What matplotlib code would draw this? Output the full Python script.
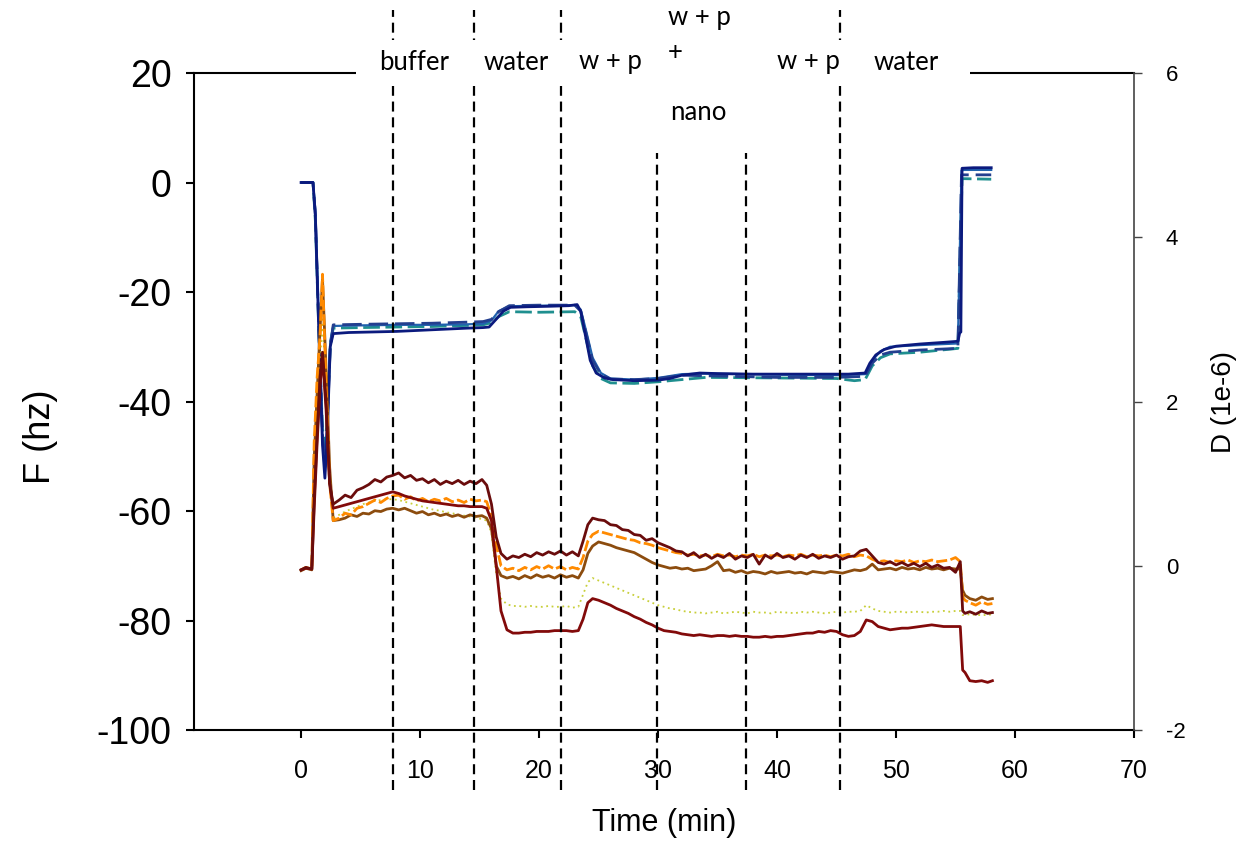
import matplotlib
matplotlib.use("Agg")
import matplotlib.pyplot as plt
import matplotlib.transforms as mtransforms
from matplotlib.patches import Rectangle

plt.rcParams['font.family'] = ['Liberation Sans', 'DejaVu Sans']
plt.rcParams['axes.unicode_minus'] = False

# ---------------- data ----------------
# Frequency (left axis, Hz)
t_f_navy = [0, 1.0, 1.2, 1.5, 1.8, 2.0, 2.2, 2.45, 2.7, 4, 6, 8, 10, 12, 14, 15.3, 15.8, 16.3, 17.0, 17.6,
            19, 21, 22.5, 23.2, 23.5, 23.9, 24.3, 24.8, 25.5, 26.2, 28, 30, 31, 32, 33.5, 35, 38, 41, 44, 46,
            47.4, 47.8, 48.3, 49, 50, 52, 54, 55.2, 55.35, 55.45, 55.55, 56.5, 58.0]
f_navy = [0, 0, -6, -28, -48, -54, -46, -30, -27.6, -27.4, -27.3, -27.2, -27.0, -26.8, -26.6, -26.5, -26.4, -25.2, -23.5, -22.8,
          -22.7, -22.6, -22.5, -22.3, -23.5, -28, -32.5, -34.8, -35.7, -36.0, -36.2, -36.1, -35.8, -35.2, -34.8, -34.9, -35.0, -35.0, -35.0, -35.0,
          -34.8, -33, -31.5, -30.5, -29.9, -29.5, -29.2, -29.0, -27.5, -27.3, 2.6, 2.7, 2.7]

t_f_b = [0, 1.0, 1.2, 1.5, 1.8, 2.0, 2.2, 2.45, 2.7, 5, 8, 11, 14, 15.3, 16.0, 16.6, 17.5, 20, 23, 23.5,
         24.0, 24.5, 25.2, 26, 28, 30, 32, 34, 40, 45, 47.4, 48.0, 48.7, 49.5, 52, 55.2, 55.5, 55.7, 58.0]
f_bdash = [0, 0, -6, -27, -46, -52, -44, -30, -26.0, -25.9, -25.8, -25.7, -25.5, -25.4, -25.0, -23.6, -22.5, -22.4, -22.4, -23.5,
           -28, -32.5, -35, -35.9, -36.0, -35.8, -35.2, -35.3, -35.6, -35.6, -35.4, -33, -31.5, -31.0, -30.6, -30.3, 1.4, 1.4, 1.4]
f_steel = [0, 0, -5, -26, -47, -53, -45, -29, -26.2, -26.1, -26.0, -26.0, -25.9, -25.8, -25.2, -23.5, -22.6, -22.5, -22.4, -23.2,
           -27.5, -32, -34.8, -35.8, -36.0, -35.7, -35.0, -34.9, -35.1, -35.2, -35.0, -32.5, -30.8, -30.0, -29.7, -29.4, 2.2, 2.3, 2.3]

t_f_teal = [0, 1.0, 1.2, 1.5, 1.8, 2.0, 2.2, 2.45, 2.7, 5, 8, 11, 14, 15.3, 16, 16.6, 17.5, 20, 23, 23.5,
            24, 24.5, 25.2, 26, 28, 30, 32, 34, 40, 45, 46.5, 47.4, 48, 48.7, 49.5, 52, 55.2, 55.55, 55.7, 58]
f_teal = [0, 0, -7, -28, -45, -50, -42, -30, -26.6, -26.5, -26.4, -26.3, -26.1, -26.0, -25.6, -24.5, -23.6, -23.7, -23.6, -24.5,
          -29, -33.5, -35.8, -36.6, -36.7, -36.4, -36.0, -35.6, -35.7, -35.8, -36.2, -36.0, -33.5, -32, -31.3, -31.0, -30.3, 0.7, 0.7, 0.6]

# Dissipation (right axis, 1e-6) - shared time base
t_d = [0, 0.4, 0.9, 1.1, 1.35, 1.6, 1.8, 2.1, 2.4, 2.7,
       3.2, 3.7, 4.2, 4.7, 5.2, 5.7, 6.2, 6.7, 7.2, 7.7, 8.2, 8.7, 9.2, 9.7, 10.2, 10.7, 11.2, 11.7, 12.2, 12.7, 13.2, 13.7, 14.2, 14.7, 15.2,
       15.6, 16.0, 16.4, 16.8,
       17.3, 17.8, 18.3, 18.8, 19.3, 19.8, 20.3, 20.8, 21.3, 21.8, 22.3, 22.8, 23.3,
       23.7, 24.1,
       24.5, 25.0, 25.5, 26.0, 26.5, 27.0, 27.5, 28.0, 28.5, 29.0,
       29.5, 30.0, 30.5, 31.0, 31.5, 32.0, 32.5, 33.0, 33.5, 34.0,
       34.5, 35.0, 35.5, 36.0, 36.5, 37.0, 37.5, 38.0, 38.5, 39.0,
       39.5, 40.0, 40.5, 41.0, 41.5, 42.0, 42.5, 43.0, 43.5, 44.0,
       44.5, 45.0, 45.5, 46.0, 46.5, 47.0, 47.5, 48.0, 48.5, 49.0,
       49.5, 50.0, 50.5, 51.0, 51.5, 52.0, 52.5, 53.0, 53.5, 54.0,
       54.5, 55.0,
       55.4, 55.6, 55.8, 56.2, 56.7, 57.2, 57.7, 58.1]

d_maroon = [-0.05, -0.02, -0.04, 0.8, 1.6, 2.3, 2.6, 2.0, 1.0, 0.75,
            0.80, 0.86, 0.83, 0.92, 0.95, 0.99, 1.05, 1.02, 1.08, 1.10, 1.13, 1.07, 1.10, 1.04, 1.06, 1.01, 1.05, 0.99, 1.03, 1.00, 1.04, 0.99, 1.03, 1.00, 1.05,
            0.98, 0.75, 0.35, 0.15,
            0.08, 0.12, 0.10, 0.14, 0.11, 0.16, 0.13, 0.17, 0.14, 0.18, 0.13, 0.17, 0.12,
            0.30, 0.50,
            0.58, 0.56, 0.55, 0.50, 0.49, 0.44, 0.43, 0.38, 0.37, 0.31,
            0.33, 0.28, 0.25, 0.22, 0.18, 0.17, 0.12, 0.16, 0.10, 0.14,
            0.09, 0.13, 0.10, 0.15, 0.08, 0.12, 0.10, 0.14, 0.02, 0.13,
            0.09, 0.15, 0.10, 0.12, 0.08, 0.13, 0.10, 0.14, 0.09, 0.12,
            0.10, 0.13, 0.08, 0.11, 0.12, 0.18, 0.20, 0.12, 0.04, 0.02,
            0.05, 0.01, 0.04, 0.00, 0.03, -0.01, 0.03, -0.02, 0.01, -0.03,
            -0.02, -0.08,
            0.05, -0.55, -0.58, -0.56, -0.59, -0.55, -0.58, -0.57]

d_red = [-0.05, -0.03, -0.04, 0.7, 1.5, 2.2, 2.55, 1.9, 1.0, 0.70,
         0.72, 0.74, 0.76, 0.78, 0.80, 0.82, 0.84, 0.86, 0.88, 0.90, 0.88, 0.85, 0.83, 0.81, 0.79, 0.78, 0.77, 0.76, 0.75, 0.74, 0.73, 0.73, 0.72, 0.72, 0.72,
         0.70, 0.55, 0.0, -0.55,
         -0.78, -0.82, -0.82, -0.81, -0.81, -0.80, -0.80, -0.80, -0.79, -0.79, -0.79, -0.80, -0.79,
         -0.65, -0.45,
         -0.40, -0.42, -0.45, -0.48, -0.52, -0.55, -0.58, -0.62, -0.65, -0.69,
         -0.72, -0.76, -0.79, -0.80, -0.81, -0.83, -0.84, -0.85, -0.84, -0.85,
         -0.86, -0.85, -0.85, -0.86, -0.85, -0.86, -0.86, -0.87, -0.87, -0.86,
         -0.87, -0.86, -0.86, -0.85, -0.84, -0.83, -0.82, -0.82, -0.80, -0.81,
         -0.79, -0.80, -0.84, -0.86, -0.85, -0.80, -0.66, -0.68, -0.74, -0.76,
         -0.78, -0.77, -0.76, -0.76, -0.75, -0.74, -0.73, -0.72, -0.73, -0.74,
         -0.74, -0.74,
         -0.74, -1.27, -1.30, -1.40, -1.41, -1.40, -1.42, -1.40]

d_orange = [-0.05, -0.02, -0.04, 1.5, 2.3, 2.8, 3.55, 2.2, 1.0, 0.55,
            0.58, 0.64, 0.62, 0.70, 0.72, 0.76, 0.80, 0.77, 0.82, 0.85, 0.86, 0.81, 0.84, 0.79, 0.82, 0.78, 0.81, 0.79, 0.82, 0.78, 0.80, 0.77, 0.81, 0.79, 0.80,
            0.78, 0.60, 0.25, 0.0,
            -0.05, -0.03, -0.06, -0.02, -0.05, -0.01, -0.04, 0.00, -0.04, -0.01, -0.05, -0.02, -0.04,
            0.10, 0.30,
            0.38, 0.42, 0.40, 0.38, 0.36, 0.34, 0.32, 0.31, 0.28, 0.27,
            0.25, 0.22, 0.20, 0.18, 0.16, 0.15, 0.13, 0.14, 0.12, 0.13,
            0.11, 0.14, 0.12, 0.13, 0.11, 0.13, 0.12, 0.14, 0.11, 0.13,
            0.12, 0.13, 0.11, 0.13, 0.12, 0.14, 0.11, 0.13, 0.12, 0.13,
            0.11, 0.13, 0.12, 0.14, 0.11, 0.13, 0.12, 0.08, 0.05, 0.06,
            0.04, 0.06, 0.05, 0.07, 0.04, 0.06, 0.05, 0.07, 0.05, 0.06,
            0.07, 0.10,
            0.05, -0.38, -0.42, -0.45, -0.48, -0.44, -0.47, -0.46]

d_brown = [-0.06, -0.03, -0.05, 1.3, 2.1, 2.9, 3.49, 2.4, 1.2, 0.55,
           0.56, 0.58, 0.62, 0.60, 0.64, 0.63, 0.67, 0.66, 0.69, 0.70, 0.68, 0.70, 0.67, 0.64, 0.66, 0.62, 0.64, 0.61, 0.63, 0.60, 0.62, 0.59, 0.62, 0.60, 0.61,
           0.58, 0.45, 0.0, -0.12,
           -0.15, -0.13, -0.16, -0.12, -0.15, -0.11, -0.14, -0.12, -0.15, -0.11, -0.14, -0.12, -0.15,
           -0.05, 0.15,
           0.24, 0.29, 0.27, 0.25, 0.22, 0.20, 0.18, 0.16, 0.12, 0.08,
           0.04, 0.01, -0.01, -0.03, -0.02, -0.04, -0.03, -0.06, -0.05, -0.04,
           0.00, 0.05, -0.06, -0.05, -0.08, -0.06, -0.09, -0.07, -0.08, -0.10,
           -0.07, -0.09, -0.08, -0.07, -0.09, -0.08, -0.10, -0.07, -0.08, -0.09,
           -0.07, -0.08, -0.09, -0.07, -0.05, -0.06, -0.04, 0.02, -0.05, -0.04,
           -0.03, -0.05, -0.02, -0.04, -0.03, -0.05, -0.02, -0.04, -0.03, -0.05,
           -0.03, -0.04,
           -0.04, -0.30, -0.36, -0.40, -0.42, -0.38, -0.41, -0.40]

d_yellow = [-0.05, -0.03, -0.04, 1.0, 1.8, 2.5, 3.0, 2.1, 1.0, 0.58,
            0.62, 0.66, 0.69, 0.72, 0.75, 0.77, 0.79, 0.80, 0.81, 0.81, 0.80, 0.78, 0.76, 0.74, 0.72, 0.70, 0.68, 0.67, 0.65, 0.64, 0.62, 0.61, 0.60, 0.58, 0.57,
            0.55, 0.40, -0.10, -0.40,
            -0.47, -0.49, -0.49, -0.50, -0.49, -0.50, -0.50, -0.49, -0.50, -0.50, -0.49, -0.51, -0.50,
            -0.35, -0.20,
            -0.15, -0.18, -0.21, -0.24, -0.27, -0.30, -0.33, -0.36, -0.39, -0.42,
            -0.45, -0.48, -0.50, -0.52, -0.53, -0.55, -0.56, -0.57, -0.57, -0.58,
            -0.57, -0.56, -0.58, -0.57, -0.56, -0.57, -0.58, -0.56, -0.57, -0.57,
            -0.58, -0.56, -0.57, -0.57, -0.58, -0.56, -0.57, -0.56, -0.57, -0.58,
            -0.57, -0.56, -0.57, -0.56, -0.56, -0.55, -0.48, -0.52, -0.55, -0.56,
            -0.57, -0.56, -0.56, -0.57, -0.56, -0.56, -0.57, -0.56, -0.56, -0.55,
            -0.56, -0.55,
            -0.55, -0.60, -0.60, -0.59, -0.60, -0.60, -0.60, -0.59]

# vertical event markers (min) and labels
event_t = [7.76, 14.55, 21.84, 29.89, 37.35, 45.31]
x_ticks = [0, 10, 20, 30, 40, 50, 60, 70]
f_ticks = [-100, -80, -60, -40, -20, 0, 20]
d_ticks = [-2, 0, 2, 4, 6]

# ---------------- figure ----------------
W, H = 1251, 846
fig = plt.figure(figsize=(W / 100, H / 100), dpi=100)
ax = fig.add_axes([194 / W, 1 - 730 / H, (1134 - 194) / W, (730 - 73) / H])
ax2 = ax.twinx()

ax.set_xlim(-9.0, 69.8)
ax.set_ylim(-100, 20)
ax2.set_ylim(-2, 6)

# frequency curves
ax.plot(t_f_teal, f_teal, color='#1f8f8f', lw=2, ls=(0, (6, 2)))
ax.plot(t_f_b, f_steel, color='#2062ae', lw=1.6)
ax.plot(t_f_b, f_bdash, color='#233f8f', lw=2, ls=(0, (7, 2.5)))
ax.plot(t_f_navy, f_navy, color='#0b1a7e', lw=2)

# dissipation curves
ax2.plot(t_d, d_yellow, color='#c8cf3a', lw=1.3, ls=(0, (1, 2)))
ax2.plot(t_d, d_brown, color='#8c4c0e', lw=2)
ax2.plot(t_d, d_orange, color='#ff8a00', lw=2, ls=(0, (4, 1.2)))
ax2.plot(t_d, d_red, color='#820a0a', lw=2)
ax2.plot(t_d, d_maroon, color='#6a0c0c', lw=2)

# event lines (extend beyond the axes)
trans = mtransforms.blended_transform_factory(ax2.transData, ax2.transAxes)
for i, te in enumerate(event_t):
    top = 0.878 if i in (3, 4) else 1.096
    ax2.plot([te, te], [-0.091, top], transform=trans, color='black', lw=1.6,
             ls=(0, (4.5, 2.6)), clip_on=False, zorder=5)

# ticks and spines
ax.set_xticks(x_ticks)
ax.set_yticks(f_ticks)
ax2.set_yticks(d_ticks)
ax.tick_params(axis='y', direction='out', length=6, width=1.5, pad=10, labelsize=27)
ax.tick_params(axis='x', direction='out', length=6, width=1.5, pad=15, labelsize=18)
ax2.tick_params(axis='y', direction='out', length=6, width=1.0, pad=17, labelsize=16, color='#444444')
for s in ['left', 'bottom', 'top']:
    ax.spines[s].set_linewidth(1.5)
    ax.spines[s].set_color('black')
ax.spines['right'].set_visible(False)
for s in ['left', 'bottom', 'top']:
    ax2.spines[s].set_visible(False)
ax2.spines['right'].set_linewidth(1.2)
ax2.spines['right'].set_color('#444444')

# axis labels
fig.text(664 / W, 1 - 823 / H, 'Time (min)', ha='center', va='center', fontsize=22)
fig.text(41 / W, 1 - 437 / H, 'F (hz)', ha='center', va='center', fontsize=26, rotation=90)
fig.text(1224 / W, 1 - 402 / H, 'D (1e-6)', ha='center', va='center', fontsize=20, rotation=90)

# white band behind annotations
fig.add_artist(Rectangle((356 / W, 1 - 86 / H), 614 / W, 46 / H, transform=fig.transFigure,
                         facecolor='white', edgecolor='none', zorder=5))

ann = [('buffer', 414, 62), ('water', 516, 62), ('w + p', 610, 62),
       ('w + p', 699, 18), ('+', 675, 52), ('nano', 698, 113),
       ('w + p', 808, 62), ('water', 906, 62)]
for s, x, y in ann:
    fig.text(x / W, 1 - y / H, s, ha='center', va='center', fontsize=18.5,
             family=['Lato', 'DejaVu Sans'], zorder=10)

fig.savefig('out.png', dpi=100)
